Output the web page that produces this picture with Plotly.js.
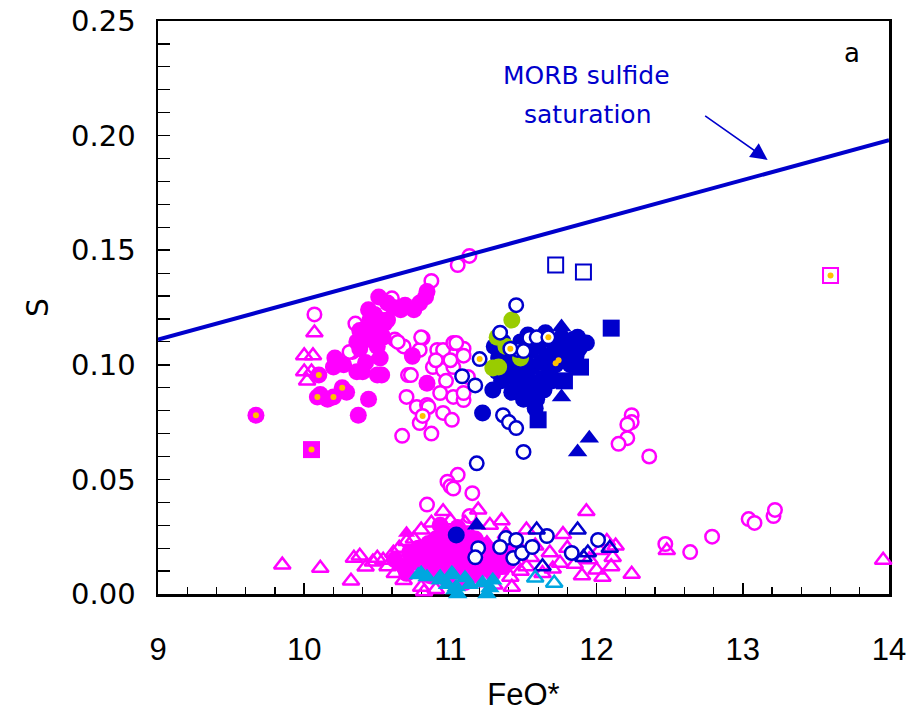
<!DOCTYPE html>
<html><head><meta charset="utf-8">
<script src="https://cdn.plot.ly/plotly-3.0.1.min.js"></script>
<style>body{margin:0;background:#fff}#chart{width:910px;height:717px}</style>
</head><body><div id="chart"></div>
<script>
// ---- data (FeO*, S) ----
const magOpenCircX = [10.07,10.35,10.33,10.60,10.62,10.68,10.81,10.79,10.71,10.70,10.77,10.67,10.87,10.79,10.91,10.95,11.02,11.09,10.88,10.95,11.02,10.97,10.93,11.02,11.09,10.95,11.01,10.84,10.87,11.05,11.13,11.09,11.09,10.64,10.74,10.73,10.90,10.85,11.04,11.12,11.00,10.31,10.80,10.44,
  11.05,10.98,11.00,11.02,11.15,10.84,11.13,
  12.24,12.24,12.21,12.21,12.15,12.36,12.47,12.64,12.79,13.04,13.08,13.21,13.22];
const magOpenCircY = [0.122,0.118,0.1056,0.129,0.111,0.108,0.1117,0.1065,0.0955,0.086,0.0816,0.069,0.070,0.0746,0.1065,0.1065,0.1095,0.107,0.099,0.0977,0.099,0.093,0.0877,0.086,0.0846,0.079,0.076,0.0825,0.1366,0.1435,0.1475,0.104,0.0877,0.110,0.1035,0.0955,0.102,0.0816,0.1095,0.0947,0.102,0.1056,0.112,0.106,
  0.052,0.049,0.047,0.046,0.044,0.039,0.034,
  0.078,0.075,0.074,0.068,0.0655,0.060,0.0218,0.0183,0.025,0.0327,0.031,0.034,0.0367];
const magFillCircX = [10.44,10.37,10.21,10.20,10.27,10.36,10.40,10.50,10.53,10.52,10.36,10.38,10.43,10.47,10.52,10.43,10.45,10.47,10.52,10.44,10.51,10.57,10.61,10.66,10.69,10.75,10.79,10.83,10.84,10.54,10.57,10.74,10.84,10.38,10.50,10.16,10.29,10.11,10.48,10.55,10.42,
  10.62,10.68,10.72,10.75,10.78,10.80,10.82,10.85,10.87,10.88,10.90,10.92,10.93,10.95,10.96,10.98,11.00,11.01,11.03,11.05,11.06,11.08,11.09,11.11,11.12,11.14,11.15,11.17,11.18,11.20,11.22,11.23,11.25,11.27,11.29,11.31,11.33,11.35,10.86,10.98,11.10,10.70,11.05,10.93,11.38,11.40];
const magFillCircY = [0.085,0.078,0.103,0.099,0.100,0.097,0.097,0.0955,0.0955,0.103,0.110,0.107,0.111,0.114,0.116,0.1165,0.1195,0.120,0.1195,0.124,0.1296,0.127,0.125,0.124,0.126,0.124,0.127,0.1296,0.132,0.112,0.1195,0.104,0.092,0.115,0.108,0.085,0.088,0.087,0.122,0.118,0.101,
  0.015,0.012,0.018,0.014,0.020,0.016,0.011,0.022,0.018,0.013,0.024,0.019,0.015,0.010,0.027,0.021,0.017,0.013,0.024,0.020,0.015,0.011,0.026,0.022,0.018,0.014,0.008,0.024,0.019,0.015,0.011,0.021,0.017,0.013,0.009,0.019,0.015,0.012,0.008,0.006,0.005,0.009,0.029,0.030,0.020,0.014];
const magOpenTriX = [10.07,10.00,10.06,10.00,10.05,10.02,13.96,12.24,12.48,
  9.85,10.11,10.32,10.34,10.38,10.42,10.50,10.54,10.61,10.62,10.70,10.87,10.95,11.19,11.27,11.35,11.93,11.77,12.07,12.11,11.95,12.00,12.04,11.75,11.52,11.43,11.52,11.63,11.41,11.34,10.47,10.57,10.65,10.68,10.75,10.80,10.80,10.82,11.00,11.05,11.10,11.15,11.25,11.30,11.38,11.45,11.48,11.55,11.58,11.68,11.70,11.80,11.85,11.90,12.02,12.10,12.13,11.20,11.30,11.42,10.90];
const magOpenTriY = [0.114,0.104,0.104,0.097,0.097,0.093,0.0148,0.0087,0.019,
  0.0127,0.0113,0.0057,0.0157,0.0166,0.0118,0.0157,0.0148,0.0179,0.009,0.023,0.031,0.036,0.0367,0.030,0.032,0.036,0.026,0.023,0.016,0.015,0.0105,0.0074,0.0135,0.028,0.018,0.012,0.009,0.0074,0.0105,0.014,0.012,0.020,0.006,0.024,0.028,0.003,0.001,0.032,0.028,0.031,0.025,0.022,0.017,0.026,0.022,0.010,0.016,0.021,0.018,0.011,0.020,0.013,0.008,0.019,0.012,0.021,0.005,0.004,0.003,0.002];
const magFillTriX = [10.70,10.88,11.10];
const magFillTriY = [0.0266,0.021,0.018];
const magDotCircX = [9.67,10.10,10.09,10.20,10.26];
const magDotCircY = [0.078,0.0955,0.086,0.086,0.090];
const magDotSqX = [10.05];
const magDotSqY = [0.063];
const magDotOpenSqX = [13.60];
const magDotOpenSqY = [0.139];
const magDotOpenCircX = [10.81];
const magDotOpenCircY = [0.0777];

const blueFillCircX = [11.22,11.04,11.30,11.33,11.36,11.38,11.40,11.42,11.45,11.47,11.48,11.50,11.52,11.53,11.55,11.56,11.58,11.59,11.60,11.62,11.63,11.65,11.66,11.68,11.70,11.72,11.74,11.76,11.78,11.80,11.82,11.84,11.86,11.88,11.60,11.58,11.55,11.35,11.42,11.50,11.32,11.29,11.93,11.87,11.64,11.70,11.48,11.52];
const blueFillCircY = [0.079,0.0257,0.108,0.103,0.110,0.100,0.095,0.105,0.098,0.090,0.110,0.102,0.095,0.113,0.106,0.099,0.092,0.085,0.108,0.101,0.094,0.114,0.104,0.097,0.110,0.100,0.106,0.112,0.103,0.108,0.100,0.111,0.104,0.107,0.088,0.081,0.090,0.093,0.088,0.085,0.097,0.089,0.1095,0.112,0.089,0.093,0.094,0.088];
const blueFillSqX = [12.10,11.89,11.60,11.78,11.45];
const blueFillSqY = [0.116,0.099,0.076,0.093,0.095];
const blueFillTriX = [11.76,11.95,11.87,11.76,11.18];
const blueFillTriY = [0.086,0.068,0.062,0.1165,0.030];
const blueDotCircX = [11.72,11.74];
const blueDotCircY = [0.1007,0.102];
const blueOpenCircX = [11.45,11.34,11.46,11.54,11.59,11.50,11.17,11.08,11.36,11.40,11.45,11.50,11.18,
  11.38,11.45,11.34,11.43,11.49,11.56,11.66,11.83,12.01,11.19,11.17];
const blueOpenCircY = [0.126,0.114,0.1065,0.1117,0.112,0.106,0.091,0.095,0.078,0.075,0.0724,0.062,0.057,
  0.0244,0.0236,0.0205,0.0157,0.0179,0.0205,0.0253,0.0179,0.0236,0.020,0.016];
const blueDotOpenCircX = [11.41,11.67,11.20];
const blueDotOpenCircY = [0.107,0.112,0.1025];
const blueOpenTriX = [11.59,11.87,12.09,11.63,11.94,11.91];
const blueOpenTriY = [0.028,0.028,0.020,0.012,0.018,0.016];
const blueOpenSqX = [11.72,11.91];
const blueOpenSqY = [0.1435,0.1405];
const greenX = [11.42,11.32,11.29,11.33,11.48,11.38];
const greenY = [0.1195,0.112,0.0986,0.099,0.103,0.108];
const cyanFillTriX = [10.78,10.84,10.93,11.02,11.03,11.13,11.22,11.27,10.80,10.93,11.01,11.04,11.29,11.05,11.25,10.98,11.10];
const cyanFillTriY = [0.0083,0.0074,0.006,0.0083,0.0017,0.004,0.0048,0.0026,0.009,0.0074,0.009,0.003,0.006,0.0,0.0,0.004,0.007];
const cyanOpenTriX = [11.58,11.71];
const cyanOpenTriY = [0.007,0.0048];
const morbX = [9, 14];
const morbY = [0.111, 0.198];

const MAG = '#FF00FF', BLUE = '#0000CC', GREEN = '#99CC00', CYAN = '#00A6E0', GOLD = '#FFC000';

function sc(x, y, marker) {
  return {type:'scatter', mode:'markers', x:x, y:y, marker:marker, hoverinfo:'skip', cliponaxis:false, showlegend:false};
}
const traces = [
  sc(magOpenCircX, magOpenCircY, {symbol:'circle', size:13.5, color:'#fff', line:{color:MAG, width:2.5}}),
  sc(magFillCircX, magFillCircY, {symbol:'circle', size:17, color:MAG, line:{width:0}}),
  sc(magOpenTriX, magOpenTriY, {symbol:'triangle-up-open', size:14.5, color:MAG, line:{color:MAG, width:2.5}}),
  sc(magFillTriX, magFillTriY, {symbol:'triangle-up', size:15, color:MAG, line:{width:0}}),
  sc(blueFillCircX, blueFillCircY, {symbol:'circle', size:17, color:BLUE, line:{width:0}}),
  sc(blueFillSqX, blueFillSqY, {symbol:'square', size:17, color:BLUE, line:{width:0}}),
  sc(blueFillTriX, blueFillTriY, {symbol:'triangle-up', size:17, color:BLUE, line:{width:0}}),
  sc(greenX, greenY, {symbol:'circle', size:17, color:GREEN, line:{width:0}}),
  sc(blueDotCircX, blueDotCircY, {symbol:'circle', size:17, color:BLUE, line:{width:0}}),
  sc(blueOpenCircX, blueOpenCircY, {symbol:'circle', size:13.5, color:'#fff', line:{color:BLUE, width:2.5}}),
  sc(blueDotOpenCircX, blueDotOpenCircY, {symbol:'circle', size:13.5, color:'#fff', line:{color:BLUE, width:2.5}}),
  sc(magDotOpenCircX, magDotOpenCircY, {symbol:'circle', size:13.5, color:'#fff', line:{color:MAG, width:2.5}}),
  sc(blueOpenTriX, blueOpenTriY, {symbol:'triangle-up-open', size:14.5, color:BLUE, line:{color:BLUE, width:2.5}}),
  sc(blueOpenSqX, blueOpenSqY, {symbol:'square', size:15, color:'#fff', line:{color:BLUE, width:2}}),
  sc(cyanFillTriX, cyanFillTriY, {symbol:'triangle-up', size:17, color:CYAN, line:{width:0}}),
  sc(cyanOpenTriX, cyanOpenTriY, {symbol:'triangle-up-open', size:14.5, color:CYAN, line:{color:CYAN, width:2.5}}),
  sc(magDotCircX, magDotCircY, {symbol:'circle', size:17, color:MAG, line:{width:0}}),
  sc(magDotSqX, magDotSqY, {symbol:'square', size:17, color:MAG, line:{width:0}}),
  sc(magDotOpenSqX, magDotOpenSqY, {symbol:'square', size:15, color:'#fff', line:{color:MAG, width:2}}),
  sc([].concat(magDotCircX, magDotSqX, magDotOpenSqX, magDotOpenCircX, blueDotCircX, blueDotOpenCircX),
     [].concat(magDotCircY, magDotSqY, magDotOpenSqY, magDotOpenCircY, blueDotCircY, blueDotOpenCircY),
     {symbol:'circle', size:6, color:GOLD, line:{width:0}}),
  {type:'scatter', mode:'lines', x:morbX, y:morbY, line:{color:BLUE, width:4}, hoverinfo:'skip', showlegend:false, cliponaxis:true}
];

const layout = {
  width:910, height:717,
  margin:{l:158, r:21, t:21, b:123},
  paper_bgcolor:'#fff', plot_bgcolor:'#fff',
  showlegend:false,
  xaxis:{range:[9,14], dtick:1, tick0:9, ticks:'inside', ticklen:11, tickwidth:1.5, tickcolor:'#000',
    minor:{dtick:0.2, ticks:'inside', ticklen:7, tickwidth:1.2, tickcolor:'#000'},
    showline:true, linecolor:'#000', linewidth:2.5, mirror:true, showgrid:false, zeroline:false, layer:'below traces',
    ticklabelstandoff:26,
    tickfont:{family:'Liberation Sans Narrow, Liberation Sans, sans-serif', size:31, color:'#000'},
    title:{text:'FeO*', font:{family:'Liberation Sans Narrow, Liberation Sans, sans-serif', size:31, color:'#000'}, standoff:18}},
  yaxis:{range:[0,0.25], dtick:0.05, tick0:0, tickformat:'.2f', ticks:'inside', ticklen:12, tickwidth:1.5, tickcolor:'#000',
    minor:{dtick:0.01, ticks:'inside', ticklen:12, tickwidth:1.2, tickcolor:'#000'},
    showline:true, linecolor:'#000', linewidth:2.5, mirror:true, showgrid:false, zeroline:false, layer:'below traces',
    ticklabelstandoff:14,
    tickfont:{family:'DejaVu Sans, Verdana, sans-serif', size:29, color:'#000'},
    title:{text:'S', font:{family:'DejaVu Sans, Verdana, sans-serif', size:30, color:'#000'}, standoff:14}},
  annotations:[
    {x:11.93, y:0.2264, xref:'x', yref:'y', text:'MORB sulfide', showarrow:false,
     font:{family:'DejaVu Sans, Verdana, sans-serif', size:25, color:BLUE}},
    {x:11.94, y:0.2094, xref:'x', yref:'y', text:'saturation', showarrow:false,
     font:{family:'DejaVu Sans, Verdana, sans-serif', size:25, color:BLUE}},
    {x:13.17, y:0.1894, xref:'x', yref:'y', ax:-64, ay:-45, text:'', showarrow:true,
     arrowhead:2, arrowsize:2.1, arrowwidth:1.6, arrowcolor:BLUE},
    {x:13.75, y:0.236, xref:'x', yref:'y', text:'a', showarrow:false,
     font:{family:'DejaVu Sans, Verdana, sans-serif', size:26, color:'#000'}}
  ]
};
Plotly.newPlot('chart', traces, layout, {staticPlot:true, displayModeBar:false});
</script></body></html>
